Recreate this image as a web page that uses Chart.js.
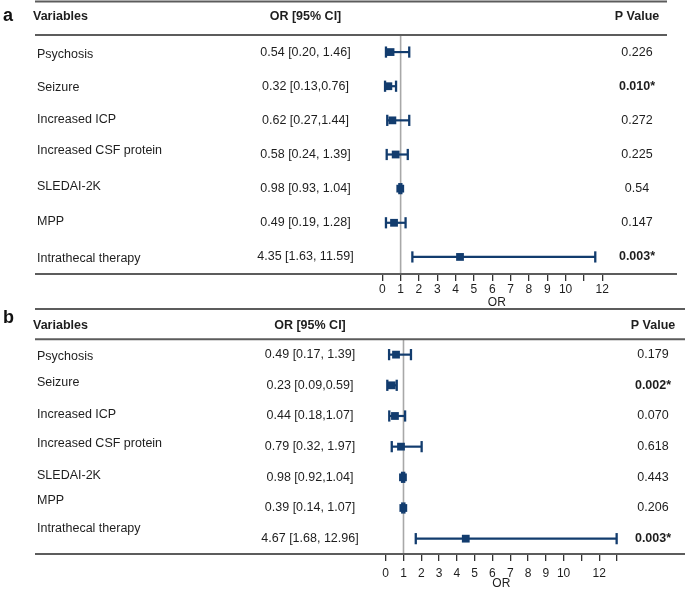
<!DOCTYPE html>
<html lang="en">
<head>
<meta charset="UTF-8" />
<title>Forest plots</title>
<script src="https://cdn.jsdelivr.net/npm/chart.js@4.4.1/dist/chart.umd.min.js"></script>
<style>
  html, body { margin: 0; padding: 0; background: #fff; overflow: hidden; }
  #wrap { position: relative; width: 685px; height: 590px; }
  canvas { position: absolute; left: 0; }
</style>
</head>
<body>
<div id="wrap">
  <canvas id="chartA" width="685" height="310" style="top:0"></canvas>
  <canvas id="chartB" width="685" height="291" style="top:300px"></canvas>
</div>
<script>
const variables = ["Psychosis", "Seizure", "Increased ICP", "Increased CSF protein", "SLEDAI-2K", "MPP", "Intrathecal therapy"];

// panel a
const orTextA = ["0.54 [0.20, 1.46]", "0.32 [0.13,0.76]", "0.62 [0.27,1.44]", "0.58 [0.24, 1.39]", "0.98 [0.93, 1.04]", "0.49 [0.19, 1.28]", "4.35 [1.63, 11.59]"];
const pTextA = ["0.226", "0.010*", "0.272", "0.225", "0.54", "0.147", "0.003*"];
const estA = [0.45, 0.33, 0.55, 0.73, 0.98, 0.64, 4.24];
const lowA = [0.20, 0.15, 0.27, 0.24, 0.93, 0.20, 1.64];
const highA = [1.47, 0.75, 1.47, 1.39, 1.04, 1.27, 11.62];
const tickLabelsA = ["0", "1", "2", "3", "4", "5", "6", "7", "8", "9", "10", "", "12"];

// panel b
const orTextB = ["0.49 [0.17, 1.39]", "0.23 [0.09,0.59]", "0.44 [0.18,1.07]", "0.79 [0.32, 1.97]", "0.98 [0.92,1.04]", "0.39 [0.14, 1.07]", "4.67 [1.68, 12.96]"];
const pTextB = ["0.179", "0.002*", "0.070", "0.618", "0.443", "0.206", "0.003*"];
const estB = [0.58, 0.34, 0.52, 0.86, 0.97, 0.99, 4.5];
const lowB = [0.19, 0.09, 0.20, 0.34, 0.92, 0.93, 1.69];
const highB = [1.42, 0.62, 1.09, 2.02, 1.04, 1.05, 12.98];
const tickLabelsB = ["0", "1", "2", "3", "4", "5", "6", "7", "8", "9", "10", "", "12", ""];

const refValue = 1;

const NAVY = "#123c6e";
const TEXT = "#1e1e1e";
const FONT = '"Liberation Sans", Arial, sans-serif';
Chart.defaults.font.family = FONT;

// draws the table around the plot: rules, headers, row texts
const tablePlugin = {
  id: "table",
  afterDraw(chart, args, o) {
    const ctx = chart.ctx;
    const ys = chart.scales.y;
    const area = chart.chartArea;
    ctx.save();

    ctx.strokeStyle = "#5c5c5c";
    ctx.lineWidth = 2;
    [[o.topRule, o.ruleEnd], [area.top, o.ruleEnd], [area.bottom, o.axisRuleEnd]].forEach(([y, x2]) => {
      ctx.beginPath();
      ctx.moveTo(35, y);
      ctx.lineTo(x2, y);
      ctx.stroke();
    });

    ctx.fillStyle = "#111";
    ctx.font = "bold 18px " + FONT;
    ctx.textBaseline = "alphabetic";
    ctx.textAlign = "left";
    ctx.fillText(o.letter, 3, o.letterY);

    ctx.textBaseline = "middle";
    ctx.fillStyle = TEXT;
    ctx.font = "bold 12.5px " + FONT;
    ctx.textAlign = "left";
    ctx.fillText("Variables", 33, o.headerY);
    ctx.textAlign = "center";
    ctx.fillText("OR [95% CI]", o.orX, o.headerY);
    ctx.fillText("P Value", o.pX, o.headerY);

    variables.forEach((name, i) => {
      const y = ys.getPixelForValue(i);
      ctx.font = "12.5px " + FONT;
      ctx.textAlign = "left";
      ctx.fillText(name, 37, y + o.labelNudge[i]);
      ctx.textAlign = "center";
      ctx.fillText(o.orText[i], o.orX, y);
      const p = o.pText[i];
      ctx.font = (p.endsWith("*") ? "bold " : "") + "12.5px " + FONT;
      ctx.fillText(p, o.pX, y);
    });
    ctx.restore();
  }
};

function makeForest(id, est, low, high, tickLabels, xMax, layout, table) {
  const datasets = [
    {
      data: est.map((v, i) => ({ x: v, y: i })),
      pointStyle: "rect",
      pointRadius: 5.5,
      backgroundColor: NAVY,
      borderColor: NAVY,
      borderWidth: 0,
      clip: false
    }
  ];
  variables.forEach((name, i) => {
    datasets.push({
      data: [{ x: low[i], y: i }, { x: high[i], y: i }],
      showLine: true,
      borderColor: NAVY,
      borderWidth: 2.2,
      pointStyle: "line",
      rotation: 90,
      pointRadius: 5.6,
      pointBorderWidth: 2.3,
      pointBorderColor: NAVY,
      clip: false
    });
  });
  datasets.push({
    data: [{ x: refValue, y: -0.5 }, { x: refValue, y: variables.length - 0.5 }],
    showLine: true,
    borderColor: "#a8a8a8",
    borderWidth: 1.6,
    pointRadius: 0,
    clip: false
  });

  return new Chart(document.getElementById(id), {
    type: "scatter",
    data: { datasets },
    options: {
      responsive: false,
      animation: false,
      devicePixelRatio: 1,
      layout: { padding: { left: layout.left, right: layout.right, top: layout.top, bottom: 0 } },
      plugins: { legend: { display: false }, tooltip: { enabled: false }, table },
      scales: {
        y: { type: "linear", display: false, reverse: true, min: -0.5, max: variables.length - 0.5 },
        x: {
          type: "linear",
          min: 0,
          max: xMax,
          afterFit: (s) => { s.height = layout.axisHeight; },
          border: { display: false },
          grid: { drawOnChartArea: false, drawTicks: true, tickLength: 7, color: "#333", lineWidth: 1.3 },
          ticks: {
            stepSize: 1,
            includeBounds: false,
            autoSkip: false,
            maxRotation: 0,
            padding: layout.tickPad,
            color: TEXT,
            font: { size: 12 },
            callback: (v) => tickLabels[v] ?? ""
          },
          title: { display: true, text: "OR", color: TEXT, font: { size: 12 }, padding: { top: 0, bottom: layout.titlePad } }
        }
      }
    },
    plugins: [tablePlugin]
  });
}

makeForest("chartA", estA, lowA, highA, tickLabelsA, 12.5,
  { left: 382.3, right: 73.6, top: 35, axisHeight: 36, tickPad: 1, titlePad: 0 },
  { letter: "a", letterY: 20.5, topRule: 1.5, ruleEnd: 667, axisRuleEnd: 677, headerY: 17, orX: 305.5, pX: 637,
    labelNudge: [2, 1, -1, -4, -2, -1, 2], orText: orTextA, pText: pTextA });

makeForest("chartB", estB, lowB, highB, tickLabelsB, 13,
  { left: 385.7, right: 68, top: 39.3, axisHeight: 37, tickPad: 5, titlePad: 0 },
  { letter: "b", letterY: 23.3, topRule: 9, ruleEnd: 685, axisRuleEnd: 685, headerY: 25.7, orX: 310, pX: 653,
    labelNudge: [2, -3, -1, -3, -2, -7, -10], orText: orTextB, pText: pTextB });
</script>
</body>
</html>
